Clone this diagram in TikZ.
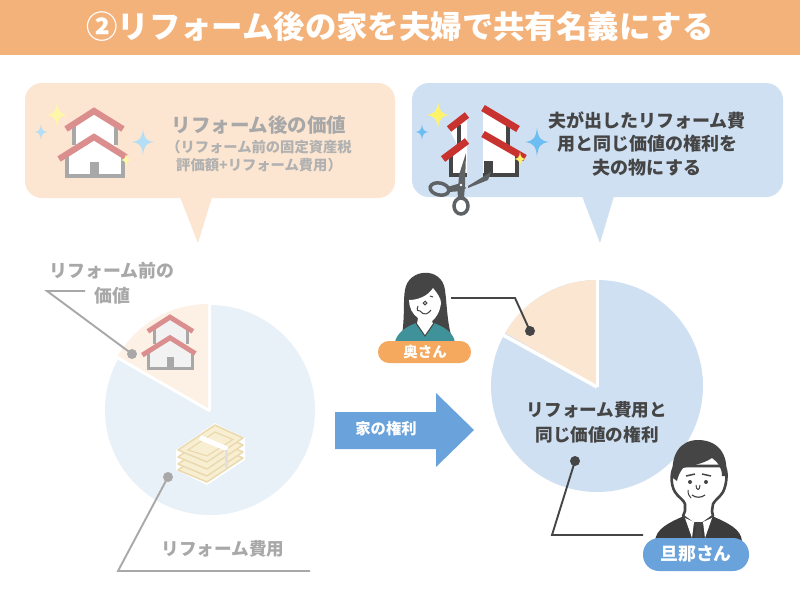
\documentclass[tikz,border=0pt]{standalone}
\usepackage{fontspec}
\newfontfamily\jp{Noto Sans CJK JP}
\usetikzlibrary{calc}
\definecolor{hdr}{HTML}{F4B27B}
\definecolor{callL}{HTML}{FCE6D1}
\definecolor{callR}{HTML}{CFE0F2}
\definecolor{pieLb}{HTML}{E8F0F8}
\definecolor{pieLo}{HTML}{FDF1E6}
\definecolor{pieRb}{HTML}{CFE0F2}
\definecolor{pieRo}{HTML}{FBE6D2}
\definecolor{fade}{HTML}{A8A8A8}
\definecolor{ink}{HTML}{454545}
\definecolor{arrowblue}{HTML}{6AA3DB}
\definecolor{badgeO}{HTML}{F5A95F}
\definecolor{teal}{HTML}{3F9299}
\definecolor{redroof}{HTML}{C8322F}
\definecolor{fadedroof}{HTML}{DB8E8E}
\definecolor{sparkY}{HTML}{FFF36B}
\definecolor{sparkYf}{HTML}{FFF7A8}
\definecolor{sparkB}{HTML}{6CBDF2}
\definecolor{sparkBf}{HTML}{B4DDF6}
\definecolor{scis}{HTML}{5F6265}
\definecolor{billfill}{HTML}{F8EFD3}
\definecolor{billline}{HTML}{EBD9AE}
\tikzset{
  txt/.style={font=\jp\bfseries\fontsize{#1}{#1}\selectfont, inner sep=0pt, align=center},
  dotnode/.style={circle, fill=#1, inner sep=0pt, minimum size=10pt},
  leader/.style={draw=#1, line width=1.9pt, line join=miter}
}
\newcommand{\sparkle}[4]{%
  \fill[#4, shift={(#1,#2)}, scale=#3] (0,-1.2) .. controls (.1,-.3) and (.3,-.1) .. (1,0)
    .. controls (.3,.1) and (.1,.3) .. (0,1.2) .. controls (-.1,.3) and (-.3,.1) .. (-1,0)
    .. controls (-.3,-.1) and (-.1,-.3) .. (0,-1.2) -- cycle;}
% #1 x #2 y #3 scale #4 roof #5 wall #6 fill
\newcommand{\houseicon}[6]{%
  \begin{scope}[shift={(#1,#2)}, scale=#3]
    \fill[#6] (0,3) -- (-20,18) -- (-20,40) -- (-27,48) -- (-27,70) -- (29,70) -- (29,48) -- (22,40) -- (22,18) -- cycle;
    \draw[#5, line width=#3*3.9pt] (-20,18) -- (-20,38);
    \draw[#5, line width=#3*3.9pt] (22,18) -- (22,38);
    \draw[#5, line width=#3*3.9pt] (-27,48) -- (-27,69) -- (29,69) -- (29,48);
    \fill[#5] (-4,55) rectangle (5,70);
    \draw[#4, line width=#3*6.2pt] (-28,22) -- (0,4) -- (29,22);
    \draw[#4, line width=#3*6.2pt] (-35,52) -- (0,30) -- (32,50);
  \end{scope}}
\begin{document}
\begin{tikzpicture}[x=1pt,y=-1pt]
\useasboundingbox (0,0) rectangle (800,600);
\fill[white] (0,0) rectangle (800,600);

% header
\fill[hdr] (0,0) rectangle (800,55);
\node[txt=31.4, text=white] (title) at (400,27) {②リフォーム後の家を夫婦で共有名義にする};

% callouts
\fill[callL, rounded corners=17pt] (25,83) rectangle (395,198);
\fill[callL] (180,197) -- (212,197) -- (198,243) -- cycle;
\fill[callR, rounded corners=17pt] (412,83) rectangle (783,197);
\fill[callR] (582,196) -- (614,196) -- (600,243) -- cycle;

% left callout contents
\sparkle{57}{115}{10.5}{sparkYf}
\sparkle{41}{132}{6.5}{sparkBf}
\houseicon{94}{107}{1}{fadedroof}{fade}{white}
\sparkle{143}{142}{11}{sparkBf}
\sparkle{126}{160}{5.5}{sparkYf}
\node[txt=19.5, text=fade] (lhead) at (259,125) {リフォーム後の価値};
\node[txt=14.3, text=fade!90] (lsub1) at (259,147) {（リフォーム前の固定資産税};
\node[txt=14.3, text=fade!90] (lsub2) at (259,165) {評価額+リフォーム費用）};

% right callout contents
\sparkle{438}{115}{11.5}{sparkY}
\sparkle{422}{132}{6.5}{sparkB}
\fill[white] (449,129) -- (467,115) -- (467,175) -- (451,175) -- (451,156) -- (459,148) -- cycle;
\fill[white] (483,109) -- (508,124) -- (508,148) -- (517,154) -- (517,175) -- (483,175) -- cycle;
\draw[ink, line width=3.4pt] (459,125) -- (459,146);
\draw[ink, line width=3.4pt] (451,156) -- (451,175) -- (467,175);
\draw[ink, line width=3.4pt] (508,124) -- (508,146);
\draw[ink, line width=3.4pt] (483,175) -- (517,175) -- (517,154);
\fill[ink] (484,161) rectangle (493,175);
\draw[redroof, line width=7pt] (449,129) -- (467,115);
\draw[redroof, line width=7pt] (483,108) -- (518,129);
\draw[redroof, line width=7pt] (443,159) -- (467,141);
\draw[redroof, line width=7pt] (483,134) -- (525,158);
\sparkle{537}{142}{12}{sparkB}
\sparkle{520}{159}{6}{sparkY}
% scissors
\fill[scis] (466,153) -- (465,185) -- (458,190) -- (459,175) -- cycle;
\fill[scis] (468,186) -- (491,172) -- (488,180) -- (468,188) -- cycle;
\draw[scis, line width=3.5pt, rotate around={-12:(439.5,189)}] (439.5,189) ellipse (9.5 and 6);
\draw[scis, line width=3.5pt] (461,206) ellipse (7 and 8);
\fill[scis] (447,187) -- (461,183) -- (466,188) -- (462,191) -- (449,192) -- cycle;
\fill[scis] (457,185) -- (465,185) -- (464,198) -- (458,198) -- cycle;
\fill[white] (461,185) circle (1.4);

% left pie
\fill[pieLb] (210,410) circle (105);
\draw[white, line width=3pt] (210,411) -- ++(210:110);
\draw[white, line width=3pt] (209,411) -- (209,303);
\fill[white] (209,411) -- ++(210:110) arc[start angle=210,end angle=270,radius=110] -- cycle;
\fill[pieLo] (208,408) -- ++(210:104) arc[start angle=210,end angle=270,radius=104] -- cycle;
\houseicon{170}{314}{0.79}{fadedroof}{fade}{white!95!black}

% money
\fill[white] (176,450) -- (215,423) -- (245,438) -- (245,460) -- (207,485) -- (176,470) -- cycle;
\foreach \dy in {20,14,7,0}{
  \draw[fill=billfill, draw=billline, line width=1.5pt, line join=round]
    (178,{450+\dy}) -- (215,{425+\dy}) -- (243,{438+\dy}) -- (207,{462+\dy}) -- cycle;
}
\draw[billline, line width=1.2pt] (188,450) -- (215,432) -- (233,439.5) -- (207,456) -- cycle;
\draw[white, line width=5pt] (200,437.5) -- (227.5,449);
\draw[black!12, line width=3.5pt] (226.5,450) -- (226.5,468);

% left pie leaders
\node[dotnode=fade] (dL1) at (132,354) {};
\coordinate (eL1) at (47,291);
\coordinate (fL1) at (85,291);
\draw[leader=fade] (fL1) -- (eL1) -- (dL1.center);
\node[txt=17.9, text=fade] (lbl1) at (112,271) {リフォーム前の};
\node[txt=17.9, text=fade] (lbl2) at (112,296) {価値};
\node[dotnode=fade] (dL2) at (168,477) {};
\coordinate (eL2) at (118,571);
\coordinate (fL2) at (310,571);
\draw[leader=fade] (dL2.center) -- (eL2) -- (fL2);
\node[txt=17.6, text=fade] (lbl3) at (223,549) {リフォーム費用};

% block arrow
\fill[arrowblue] (335,412) -- (436,412) -- (436,393) -- (474,430) -- (436,467) -- (436,449) -- (335,449) -- cycle;
\node[txt=15.3, text=white] (arrowtxt) at (386,429) {家の権利};

% right pie
\fill[pieRb] (597,386) circle (106);
\fill[pieRo] (597,386) -- ++(210:106) arc[start angle=210,end angle=270,radius=106] -- cycle;
\draw[white, line width=3.5pt] (597,387) -- ++(209:110);
\draw[white, line width=3pt] (597,387) -- (597,278);
\node[txt=17.6, text=ink] (rp1) at (597,410) {リフォーム費用と};
\node[txt=17.6, text=ink] (rp2) at (597,435) {同じ価値の権利};

% right text
\node[txt=18, text=ink] (rt1) at (647,120) {夫が出したリフォーム費};
\node[txt=18, text=ink] (rt2) at (647,144) {用と同じ価値の権利を};
\node[txt=18, text=ink] (rt3) at (647,168) {夫の物にする};

% woman
\fill[ink] (402,335) .. controls (405,315) and (403,300) .. (405,290) .. controls (408,268) and (442,266) .. (445,290) .. controls (447,305) and (447,320) .. (451,335) -- cycle;
\fill[teal] (395,342) .. controls (397,332) and (408,326) .. (416,323) -- (425,336) -- (434,323) .. controls (444,327) and (453,332) .. (455,342) -- cycle;
\fill[white] (409,300) .. controls (418,300) and (428,296) .. (433,288) .. controls (437,293) and (441,298) .. (441,303) .. controls (440,312) and (436,318) .. (432,321) -- (433,324) -- (425,336) -- (417,324) -- (418,318) .. controls (412,314) and (409,307) .. (409,300) -- cycle;
\draw[ink, line width=1pt] (416,323) -- (425,336) -- (434,323);
\draw[ink, line width=1pt] (425,303) circle (1.8);
\draw[ink, line width=1pt] (418,306) .. controls (416,310) and (418,312) .. (420,311) .. controls (424,316) and (428,314) .. (431,310);
\draw[ink, line width=1pt] (430,296) -- (433,297);
\fill[badgeO, rounded corners=10.9pt] (378,341) rectangle (471,363);
\node[txt=14.5, text=white] (wife) at (425,352) {奥さん};
\node[dotnode=ink] (dR1) at (530,331) {};
\coordinate (sR1) at (451,298);
\coordinate (eR1) at (515,298);
\draw[leader=ink] (sR1) -- (eR1) -- (dR1.center);

% man
\fill[ink!85!black] (655,541) .. controls (656,529) and (668,523) .. (684,516) -- (712,516) .. controls (728,523) and (741,529) .. (742,541) -- cycle;
\fill[white, draw=ink, line width=2.6pt, line join=round] (675,466) .. controls (671,470) and (670,484) .. (675,492) .. controls (678,497) and (684,500) .. (685,504) -- (685,511) -- (683,516) -- (698,527) -- (713,516) -- (712,511) -- (713,504) .. controls (715,500) and (720,497) .. (723,492) .. controls (727,484) and (728,470) .. (724,466) -- cycle;
\fill[ink] (673,478) .. controls (670,455) and (680,440) .. (698,440) .. controls (716,440) and (729,452) .. (726,476) -- (722,476) .. controls (722,468) and (718,462) .. (712,458) .. controls (703,464) and (690,466) .. (683,468) .. controls (680,472) and (678,476) .. (677,481) -- cycle;
\fill[ink] (690,482) circle (2);
\fill[ink] (706,482) circle (2);
\draw[ink, line width=1.5pt] (686,476) -- (695,474);
\draw[ink, line width=1.5pt] (702,474) -- (711,476);
\draw[ink, line width=1pt] (696,485) .. controls (696,491) and (700,491) .. (700,485);
\draw[ink, line width=1.2pt] (692,495) .. controls (696,498) and (701,498) .. (705,495);
\draw[ink, line width=1pt] (688,490) .. controls (688,494) and (689,496) .. (691,498);
\fill[ink] (694,522) -- (703,522) -- (701,528) -- (703,541) -- (694,541) -- (696,528) -- cycle;
\fill[white] (685,518) -- (694,522) -- (692,538) -- cycle;
\fill[white] (712,518) -- (703,522) -- (705,538) -- cycle;
\fill[arrowblue, rounded corners=16pt] (643,538) rectangle (749,571);
\node[txt=17.8, text=white] (husband) at (696,554) {旦那さん};
\node[dotnode=ink] (dR2) at (575,461) {};
\coordinate (eR2) at (552,535);
\coordinate (fR2) at (643,535);
\draw[leader=ink] (dR2.center) -- (eR2) -- (fR2);
\end{tikzpicture}
\end{document}
